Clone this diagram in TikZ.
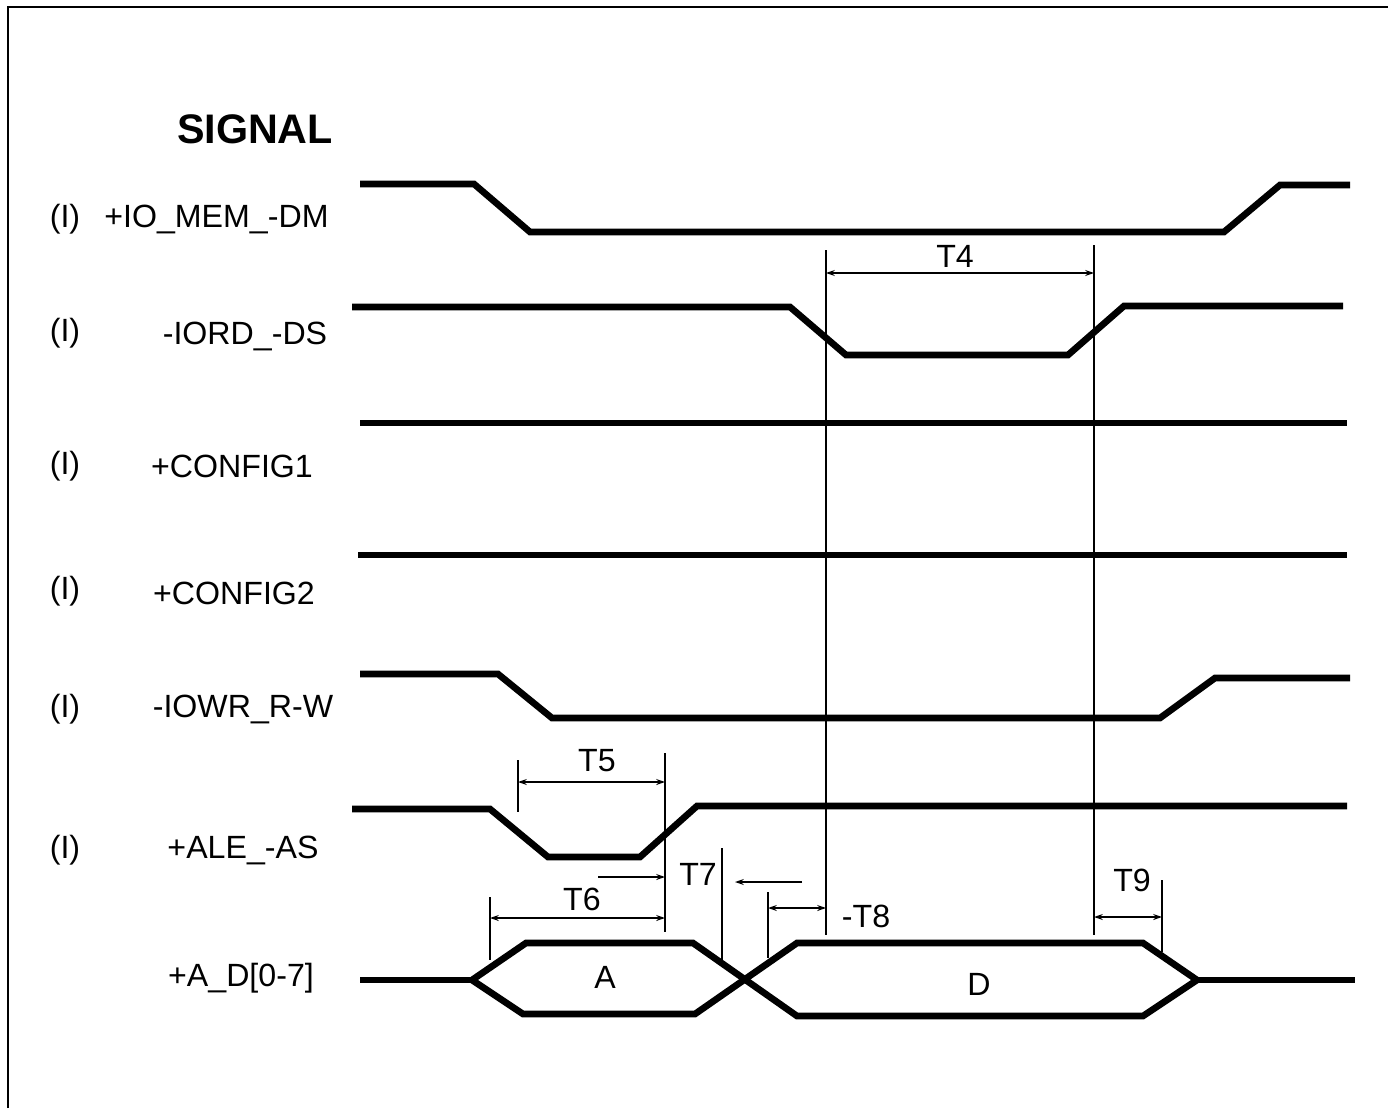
\documentclass[tikz,border=0pt]{standalone}
\usepackage{fontspec}
\setmainfont{Liberation Sans}
\usetikzlibrary{arrows.meta}
\tikzset{
  sig/.style={line width=3.8pt, line join=miter},
  thin/.style={line width=0.8pt},
  dim/.style={line width=0.8pt, {Stealth[length=5pt,width=3.4pt]}-{Stealth[length=5pt,width=3.4pt]}},
  rdim/.style={line width=0.8pt, -{Stealth[length=5pt,width=3.4pt]}},
  lbl/.style={font=\fontsize{18.3}{20}\selectfont, inner sep=0pt},
  tlbl/.style={font=\fontsize{18.3}{20}\selectfont, inner sep=0pt},
}
\begin{document}
\begin{tikzpicture}[x=0.02cm,y=-0.02cm]
\useasboundingbox (0,0) rectangle (1388,1108);
% frame
\draw[line width=1.6pt] (8,1108) -- (8,7) -- (1388,7);

% title
\node[font=\fontsize{23.5}{26}\selectfont\bfseries, inner sep=0pt] (title) at (255,129) {SIGNAL};

% signal labels
\foreach \y/\n in {219/i1,333/i2,466/i3,591/i4,709/i5,850/i6}
  \node[lbl] (\n) at (65,\y) {(I)};
\node[lbl, anchor=west] (s1) at (104,219) {+IO\_MEM\_-DM};
\node[lbl] (s2) at (245,336) {-IORD\_-DS};
\node[lbl] (s3) at (232,466) {+CONFIG1};
\node[lbl] (s4) at (234,593) {+CONFIG2};
\node[lbl] (s5) at (243,709) {-IOWR\_R-W};
\node[lbl] (s6) at (243,850) {+ALE\_-AS};
\node[lbl] (s7) at (241,978) {+A\_D[0-7]};

% waveforms
\draw[sig] (360,184) -- (474,184) -- (530,232) -- (1224,232) -- (1280,185) -- (1350,185);
\draw[sig] (352,307) -- (790,307) -- (846,355) -- (1068,355) -- (1124,306) -- (1343,306);
\draw[sig] (360,423) -- (1347,423);
\draw[sig] (358,555) -- (1347,555);
\draw[sig] (360,674) -- (498,674) -- (552,718) -- (1160,718) -- (1215,678) -- (1350,678);
\draw[sig] (352,809) -- (490,809) -- (548,857) -- (640,857) -- (697,806) -- (1347,806);
% bus
\draw[sig] (360,980) -- (472,980);
\draw[sig] (472,980) -- (526,943) -- (693,943) -- (797,1016) -- (1143,1016) -- (1197,980);
\draw[sig] (472,980) -- (523,1014) -- (695,1014) -- (797,943) -- (1143,943) -- (1197,980);
\draw[sig] (1197,980) -- (1355,980);
\node[lbl] (A) at (605,977) {A};
\node[lbl] (D) at (979,984) {D};

% reference coordinates for timing marks
\coordinate (v1t) at (826,250);  \coordinate (v1b) at (826,935);
\coordinate (v2t) at (1094,245); \coordinate (v2b) at (1094,935);
\coordinate (v3t) at (518,760);  \coordinate (v3b) at (518,812);
\coordinate (v4t) at (665,753);  \coordinate (v4b) at (665,932);
\coordinate (v5t) at (490,897);  \coordinate (v5b) at (490,960);
\coordinate (v6t) at (722,848);  \coordinate (v6b) at (722,962);
\coordinate (v7t) at (768,892);  \coordinate (v7b) at (768,958);
\coordinate (v8t) at (1162,880); \coordinate (v8b) at (1162,952);
\foreach \n in {1,...,8} \draw[thin] (v\n t) -- (v\n b);

% T4
\coordinate (t4a) at (826,273); \coordinate (t4b) at (1094,273);
\draw[dim] (t4a) -- (t4b);
\node[tlbl] (T4) at (955,256) {T4};
% T5
\coordinate (t5a) at (518,782); \coordinate (t5b) at (665,782);
\draw[dim] (t5a) -- (t5b);
\node[tlbl] (T5) at (597,761) {T5};
% T6
\coordinate (t6a) at (490,918); \coordinate (t6b) at (665,918);
\draw[dim] (t6a) -- (t6b);
\node[tlbl] (T6) at (582,899) {T6};
% T7
\coordinate (t7a) at (598,877); \coordinate (t7b) at (665,877);
\draw[rdim] (t7a) -- (t7b);
\node[tlbl] (T7) at (698,874) {T7};
\coordinate (t7c) at (802,882); \coordinate (t7d) at (735,882);
\draw[rdim] (t7c) -- (t7d);
% T8
\coordinate (t8a) at (768,908); \coordinate (t8b) at (826,908);
\draw[dim] (t8a) -- (t8b);
\node[tlbl] (T8) at (866,916) {-T8};
% T9
\coordinate (t9a) at (1094,917); \coordinate (t9b) at (1162,917);
\draw[dim] (t9a) -- (t9b);
\node[tlbl] (T9) at (1132,880) {T9};
\end{tikzpicture}
\end{document}
